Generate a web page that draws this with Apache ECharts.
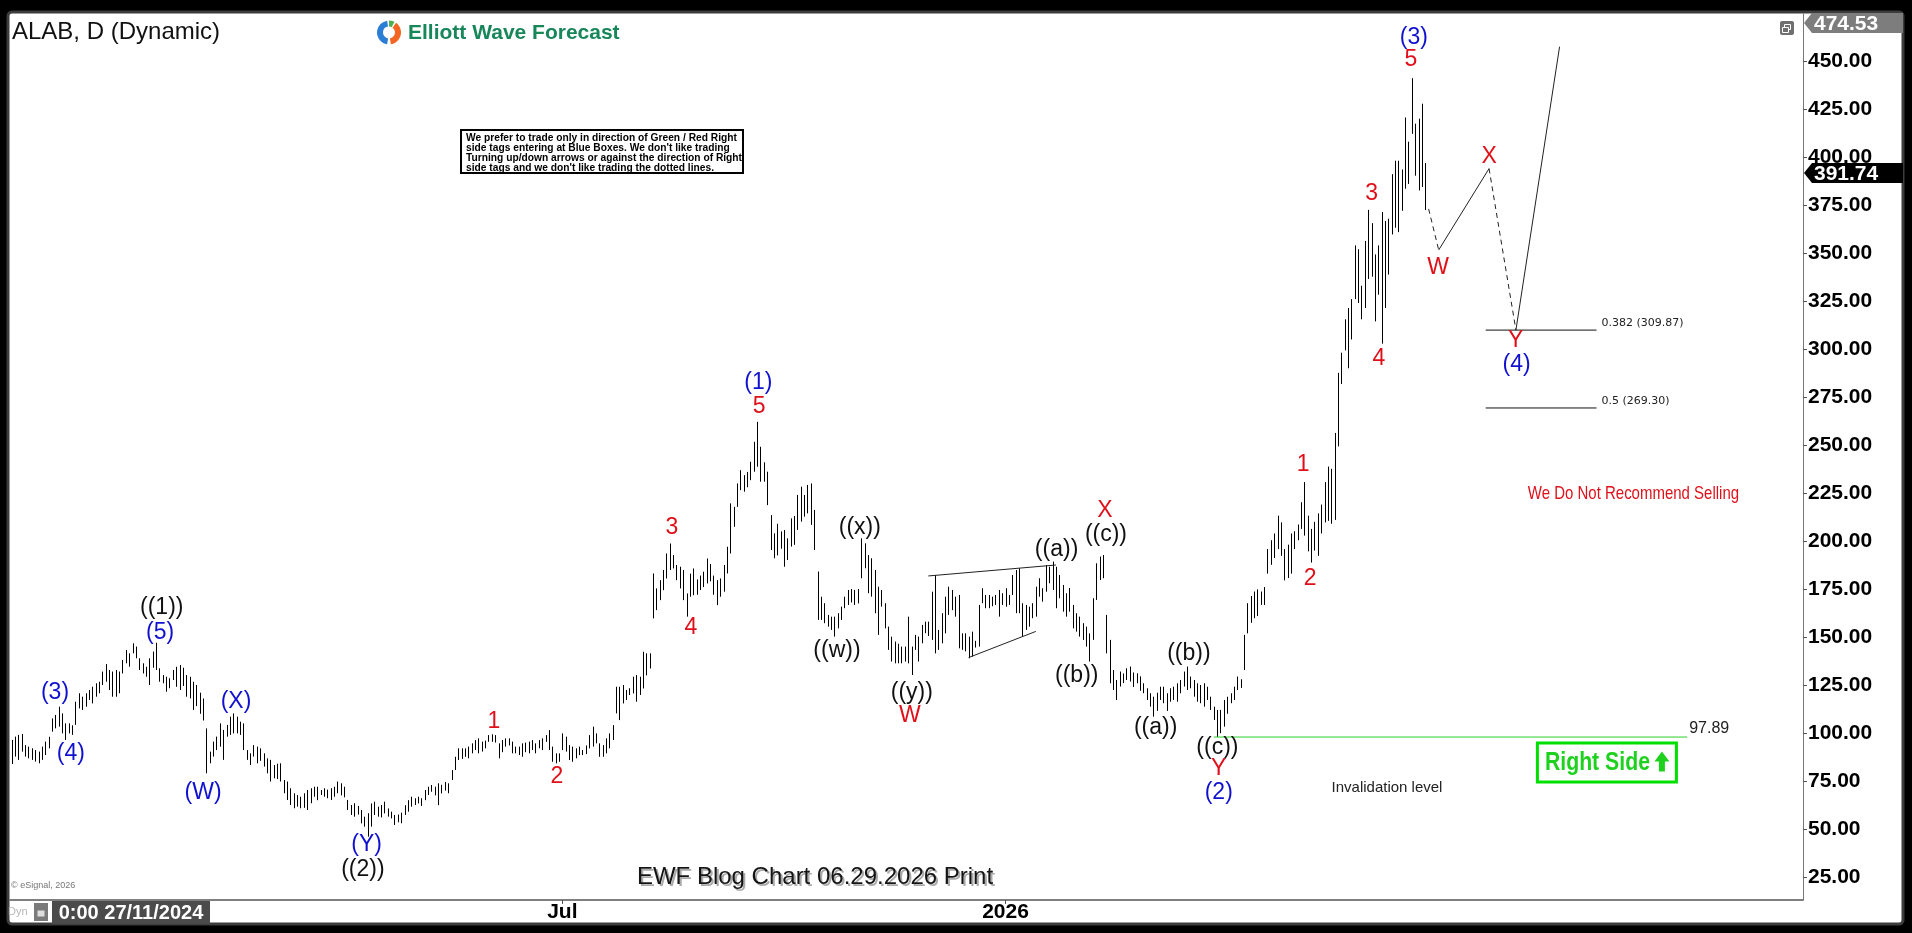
<!DOCTYPE html>
<html><head><meta charset="utf-8">
<script src="https://cdn.jsdelivr.net/npm/echarts@6.0.0/dist/echarts.min.js"></script>
<style>html,body{margin:0;padding:0;background:#000;overflow:hidden}#c{width:1912px;height:933px}</style>
</head><body><div id="c"></div>
<script>
// ---------------- data ----------------
const startDate = '2024-11-13';
const categoryCount = 534;
const xTickLabels = [['2025-07-01', 'Jul'], ['2026-01-01', '2026']];
const yTicks = [25,50,75,100,125,150,175,200,225,250,275,300,325,350,375,400,425,450];
const yMin = 13, yMax = 474.53, lastPrice = 391.74;

const highs = [
96.4,98.1,99.0,99.5,93.7,92.9,92.0,91.1,90.3,92.9,
95.5,98.0,107.6,109.4,113.7,110.2,105.0,105.0,104.0,116.3,
120.7,118.9,120.7,122.4,124.1,125.9,126.7,132.0,135.9,132.8,
132.0,132.8,132.0,138.0,143.2,141.5,146.7,145.0,138.9,136.3,
134.5,138.9,142.4,147.0,133.7,130.2,129.3,128.5,132.8,134.5,
135.4,134.0,130.2,129.3,126.7,125.0,121.0,118.0,102.4,90.3,
95.5,98.1,105.0,101.6,104.2,108.5,110.2,108.5,105.9,105.0,
91.1,89.4,93.7,92.9,92.0,89.4,86.8,86.0,83.3,84.0,
84.2,75.5,74.7,71.2,68.6,67.7,66.8,68.6,70.3,71.2,
72.0,72.0,70.3,71.2,70.5,71.2,72.0,74.7,73.8,72.0,
65.1,62.5,63.4,62.0,59.9,56.4,58.2,63.3,64.2,61.6,
62.5,64.2,60.7,59.0,57.3,57.5,58.5,62.4,65.0,66.8,
66.0,66.8,66.0,70.3,72.0,72.9,72.0,73.8,73.0,74.5,
73.8,80.7,87.6,92.0,92.0,92.0,92.9,94.6,96.3,97.2,
95.5,96.0,98.9,99.3,98.9,94.6,96.3,97.2,97.2,95.5,
92.9,92.9,94.6,95.0,95.5,96.3,94.6,96.3,97.2,98.9,
101.5,92.9,89.4,89.4,99.8,98.1,93.7,92.9,92.0,92.9,
91.1,93.5,98.9,103.3,99.8,94.6,93.7,97.2,99.8,104.1,
124.1,124.1,125.0,122.4,123.3,129.3,130.2,129.3,142.3,141.5,
141.5,183.1,175.3,179.6,184.9,193.5,198.7,192.7,187.5,186.6,
184.9,172.7,183.0,185.7,180.0,182.0,184.0,190.9,188.0,182.0,
179.6,180.5,187.5,197.0,219.6,217.8,230.0,236.9,234.3,236.0,
241.3,251.7,262.1,249.1,241.0,236.1,213.5,204.0,209.0,205.0,
205.7,201.4,211.8,213.0,224.0,228.3,224.0,229.2,230.0,216.2,
184.1,171.0,167.6,161.5,160.6,160.6,162.4,165.8,171.0,174.5,
175.0,174.5,175.0,201.4,198.8,192.7,191.0,184.9,176.2,174.5,
167.6,155.4,150.2,147.6,146.5,145.0,145.0,160.6,145.0,151.1,
150.2,156.3,158.0,158.0,173.6,182.3,153.7,162.4,171.0,176.2,
174.5,171.0,171.9,151.9,151.9,150.2,152.8,148.0,166.7,175.4,
171.9,171.9,171.0,171.9,174.5,172.8,175.4,171.9,182.3,184.9,
185.8,167.6,166.7,165.8,167.6,176.2,180.6,175.4,187.5,186.6,
189.3,186.6,182.3,177.1,172.8,175.5,166.7,162.4,160.6,157.2,
155.4,151.9,170.2,188.4,191.9,192.7,161.5,148.5,132.8,127.6,
132.0,131.0,133.7,134.6,131.5,131.1,129.5,125.9,123.3,120.7,
118.9,121.0,124.1,124.1,120.7,123.3,124.1,125.9,127.6,132.0,
134.6,129.4,127.6,125.9,125.0,125.9,124.1,118.9,113.7,112.0,
112.0,117.2,118.9,120.7,124.1,129.4,128.0,151.1,167.6,171.4,
173.7,174.8,173.7,176.0,195.8,200.4,203.9,213.2,209.7,195.8,
198.1,203.9,205.1,208.6,220.2,230.7,213.2,206.3,210.0,214.4,
219.0,230.7,238.8,237.6,256.3,287.6,298.1,315.5,321.4,326.0,
354.0,352.0,333.0,356.3,372.5,365.6,349.3,354.0,371.4,366.7,
367.9,391.1,398.1,398.1,393.5,420.6,408.0,441.1,417.4,420.0,
427.8,396.9
];
const lows = [
83.8,87.7,86.0,90.3,87.7,86.8,86.0,85.1,84.2,86.0,
88.5,92.0,100.7,102.4,103.3,99.8,96.4,99.8,99.0,104.2,
112.8,112.0,113.7,117.2,115.4,118.9,120.7,125.0,126.7,122.4,
118.9,118.9,120.7,131.0,136.3,134.5,141.5,138.9,132.8,131.0,
129.3,125.0,134.0,132.8,126.7,125.9,121.5,123.3,127.6,124.1,
122.4,124.5,118.9,118.0,112.0,114.0,110.0,106.5,79.0,84.2,
87.7,91.1,92.9,86.0,98.1,99.0,99.8,99.8,99.0,91.1,
86.0,83.3,87.7,84.2,85.5,82.5,79.0,74.7,76.4,76.0,
74.7,68.6,65.1,62.5,60.8,61.6,60.8,61.0,59.9,63.4,
66.8,65.0,67.7,66.8,66.0,65.1,66.8,68.6,67.5,66.5,
59.9,57.3,56.4,57.5,52.9,51.2,46.0,51.2,57.3,56.4,
56.0,58.1,56.4,55.5,52.1,53.5,53.0,57.3,59.0,61.6,
62.5,63.3,62.0,65.0,67.7,69.4,67.5,62.4,68.5,70.0,
68.6,75.5,80.7,85.9,86.5,87.6,86.8,89.4,91.1,89.4,
90.3,92.0,95.4,95.4,95.0,86.8,90.0,92.9,93.5,89.4,
89.4,88.5,87.6,90.0,89.4,91.1,89.4,92.0,91.1,95.4,
91.1,85.0,84.2,85.0,91.1,90.3,85.9,85.0,86.8,88.5,
88.5,89.0,92.0,92.9,94.6,87.6,87.6,89.4,92.0,96.3,
110.2,106.7,115.4,117.2,119.8,120.6,116.3,119.8,123.2,130.0,
133.6,159.7,164.0,169.2,174.4,180.5,184.9,185.7,179.6,175.3,
169.2,160.6,171.0,171.8,172.0,174.5,176.0,177.9,179.0,172.0,
166.6,171.0,173.6,183.1,193.5,207.4,217.8,226.5,225.7,228.0,
231.7,236.1,238.7,230.9,230.9,218.7,195.3,191.0,192.5,196.0,
186.6,190.1,197.1,198.0,205.8,210.1,212.7,214.4,208.4,195.3,
158.9,158.9,157.2,155.4,153.7,150.2,154.5,158.9,165.0,166.7,
168.0,166.7,167.5,180.6,185.8,172.8,171.0,162.4,151.1,165.8,
154.5,143.3,137.2,136.3,136.3,136.3,137.2,136.3,130.2,143.3,
137.2,146.7,152.0,150.5,148.5,141.5,143.3,146.7,151.9,161.5,
164.0,160.6,144.1,143.3,142.5,138.9,139.8,144.5,145.0,167.6,
165.0,165.0,166.0,166.7,160.6,166.7,165.8,166.7,171.9,162.4,
162.4,150.2,153.7,155.4,159.8,160.6,171.0,168.4,173.6,178.0,
174.5,165.0,170.2,163.2,160.6,163.2,154.5,152.8,150.2,148.5,
145.0,137.2,148.5,169.3,179.7,180.6,141.5,125.9,122.4,117.2,
124.2,126.0,127.6,126.8,124.0,125.9,122.0,120.7,117.2,113.7,
108.5,111.5,117.2,115.5,111.5,116.3,117.2,116.3,120.7,124.2,
122.4,123.3,118.9,116.3,115.5,113.7,117.2,112.0,106.8,97.89,
99.9,103.3,110.0,115.5,117.2,122.4,123.5,132.8,151.9,157.4,
159.8,160.9,166.7,166.7,183.0,187.6,191.1,195.8,192.3,179.5,
180.7,183.0,195.8,200.4,206.3,202.8,194.6,188.8,195.0,192.3,
203.9,209.7,210.5,209.0,211.0,249.3,281.8,299.3,290.0,305.0,
326.0,324.0,315.5,321.4,336.5,337.7,314.4,328.3,302.8,321.4,
338.8,359.7,363.2,360.9,372.0,383.5,386.0,412.1,390.3,382.6,
384.4,372.4
];

// wave labels: [text, bar position, price, degree colour]
const waveLabels = [
['((1))',44.7,165.1,'k'],['(5)',44.2,152.1,'b'],['(3)',12.9,120.8,'b'],['(4)',17.6,89.1,'b'],
['(W)',57.0,68.8,'b'],['(X)',66.8,116.1,'b'],['(Y)',105.7,41.7,'b'],['((2))',104.6,28.6,'k'],
['1',143.6,105.9,'r'],['2',162.4,77.2,'r'],['3',196.6,206.8,'r'],['4',202.3,154.7,'r'],
['5',222.6,270.0,'r'],['(1)',222.4,282.3,'b'],
['((w))',245.8,142.7,'k'],['((x))',252.6,206.8,'k'],['((y))',268.1,120.8,'k'],['W',267.5,108.9,'r'],
['((a))',311.2,195.3,'k'],['((b))',317.2,129.7,'k'],['((c))',325.9,203.1,'k'],['X',325.6,215.8,'r'],
['((a))',340.7,102.6,'k'],['((b))',350.6,141.1,'k'],['((c))',359.1,92.2,'k'],['Y',359.5,81.2,'r'],['(2)',359.5,68.8,'b'],
['1',384.6,239.6,'r'],['2',386.7,180.2,'r'],['3',405.0,380.7,'r'],['4',407.2,294.8,'r'],
['5',416.7,450.5,'r'],['(3)',417.6,462.3,'b'],
['W',424.8,342.2,'r'],['X',440.0,400.2,'r'],['Y',447.9,304.3,'r'],['(4)',448.2,291.7,'b']
];
const triangleUpper = [[273,181.8],[311,187.5]];
const triangleLower = [[285,139.3],[305,152.9]];
const projectionDashed = [[[422,373.0],[425,351.6]], [[440,394.0],[448,309.87]]];
const projectionSolid = [[[425,351.6],[440,394.0]], [[448,309.87],[461,457.5]]];
const fibLevels = [['0.382',309.87],['0.5',269.30]];
const fibSpan = [439, 472];
const invalidationLevel = 97.89;
const invalidationSpan = [358, 499];
const noteSelling = ['We Do Not Recommend Selling', 483.0, 224.5];
const noteInvalidation = ['Invalidation level', 409.6, 71.4];
const noteRightSide = ['Right Side', 475.1, 84.6];
const disclaimer = [
 'We prefer to trade only in direction of Green / Red Right',
 'side tags entering at Blue Boxes. We don\'t like trading',
 'Turning up/down arrows or against the direction of Right',
 'side tags and we don\'t like trading the dotted lines.'
];

// ---------------- build ----------------
function buildCategories(start, n) {
  const out = []; const d = new Date(start + 'T00:00:00Z');
  while (out.length < n) {
    const wd = d.getUTCDay();
    if (wd !== 0 && wd !== 6) out.push(d.toISOString().slice(0, 10));
    d.setUTCDate(d.getUTCDate() + 1);
  }
  return out;
}
const categories = buildCategories(startDate, categoryCount);
const tickMap = Object.fromEntries(xTickLabels);

const ARIAL = '"Liberation Sans", Arial, sans-serif';
const COLORS = { k: '#111111', b: '#1010d0', r: '#e0101a' };
const GREEN = '#1fd11f';

function fracX(api, i) {
  const base = Math.floor(i);
  return api.coord([base, 0])[0] + (i - base) * api.size([1, 0])[0];
}
function yOf(api, v) { return api.coord([0, v])[1]; }

function lineSeries(pts, color, dashed) {
  return { type: 'line', data: pts, symbol: 'none', silent: true, animation: false,
    lineStyle: { color: color, width: 1, type: dashed ? [5, 4] : 'solid' }, z: 3 };
}

const series = [];

// high-low bars
series.push({
  type: 'custom', silent: true, animation: false, z: 2,
  data: highs.map((h, i) => [i, h, lows[i]]),
  encode: { x: 0, y: [1, 2] },
  renderItem: (params, api) => {
    const i = api.value(0);
    const t = api.coord([i, api.value(1)]);
    const b = api.coord([i, api.value(2)]);
    const x = Math.round(t[0]) + 0.5;
    return { type: 'line', shape: { x1: x, y1: t[1], x2: x, y2: b[1] }, style: { stroke: '#000', lineWidth: 1 } };
  }
});

series.push(lineSeries(triangleUpper, '#222', false));
series.push(lineSeries(triangleLower, '#222', false));
projectionDashed.forEach(p => series.push(lineSeries(p, '#222', true)));
projectionSolid.forEach(p => series.push(lineSeries(p, '#222', false)));
fibLevels.forEach(f => series.push(lineSeries([[fibSpan[0], f[1]], [fibSpan[1], f[1]]], '#111', false)));
series.push(lineSeries([[invalidationSpan[0], invalidationLevel], [invalidationSpan[1], invalidationLevel]], '#2bd02b', false));

// wave labels
series.push({
  type: 'custom', silent: true, animation: false, clip: false, z: 5,
  data: waveLabels.map(d => [Math.round(d[1]), d[2]]),
  renderItem: (params, api) => {
    const d = waveLabels[params.dataIndex];
    return { type: 'text', x: fracX(api, d[1]), y: yOf(api, d[2]),
      style: { text: d[0], fill: COLORS[d[3]], font: '23px ' + ARIAL, align: 'center', verticalAlign: 'middle' } };
  }
});

// fib + invalidation level labels
series.push({
  type: 'custom', silent: true, animation: false, clip: false, z: 5,
  data: fibLevels.map(f => [fibSpan[1], f[1]]),
  renderItem: (params, api) => {
    const f = fibLevels[params.dataIndex];
    return { type: 'text', x: api.coord([fibSpan[1], f[1]])[0] + 5, y: yOf(api, f[1]) - 7,
      style: { text: f[0] + ' (' + f[1].toFixed(2) + ')', fill: '#222', font: '11px "DejaVu Sans", sans-serif', align: 'left', verticalAlign: 'middle' } };
  }
});
series.push({
  type: 'custom', silent: true, animation: false, clip: false, z: 5,
  data: [[invalidationSpan[1], invalidationLevel]],
  renderItem: (params, api) => ({ type: 'text', x: api.coord([invalidationSpan[1], invalidationLevel])[0] + 2,
    y: yOf(api, invalidationLevel) - 8,
    style: { text: invalidationLevel.toFixed(2), fill: '#222', font: '16px ' + ARIAL, align: 'left', verticalAlign: 'middle' } })
});

// notes
series.push({
  type: 'custom', silent: true, animation: false, clip: false, z: 5,
  data: [[Math.round(noteSelling[1]), noteSelling[2]], [Math.round(noteInvalidation[1]), noteInvalidation[2]], [Math.round(noteRightSide[1]), noteRightSide[2]]],
  renderItem: (params, api) => {
    if (params.dataIndex === 0) {
      return { type: 'text', x: fracX(api, noteSelling[1]), y: yOf(api, noteSelling[2]), scaleX: 0.81,
        style: { text: noteSelling[0], fill: '#e0101a', font: '18.5px ' + ARIAL, align: 'center', verticalAlign: 'middle' } };
    }
    if (params.dataIndex === 1) {
      return { type: 'text', x: fracX(api, noteInvalidation[1]), y: yOf(api, noteInvalidation[2]),
        style: { text: noteInvalidation[0], fill: '#222', font: '15px ' + ARIAL, align: 'center', verticalAlign: 'middle' } };
    }
    const cx = fracX(api, noteRightSide[1]), cy = yOf(api, noteRightSide[2]);
    return { type: 'group', children: [
      { type: 'rect', shape: { x: cx - 69.5, y: cy - 19.5, width: 139, height: 39 }, style: { fill: '#fff', stroke: '#00e000', lineWidth: 3 } },
      { type: 'text', x: cx - 62, y: cy + 1, scaleX: 0.85, style: { text: noteRightSide[0], fill: GREEN, font: 'bold 25px ' + ARIAL, align: 'left', verticalAlign: 'middle' } },
      { type: 'polygon', shape: { points: [[cx + 55, cy - 11], [cx + 62.5, cy - 1], [cx + 58, cy - 1], [cx + 58, cy + 9], [cx + 52, cy + 9], [cx + 52, cy - 1], [cx + 47.5, cy - 1]] }, style: { fill: GREEN } }
    ] };
  }
});

// price tags on the axis
series.push({
  type: 'custom', silent: true, animation: false, clip: false, z: 20,
  data: [[0, yMax], [0, lastPrice]],
  renderItem: (params, api) => {
    const cs = params.coordSys;
    const x0 = cs.x + cs.width;
    const v = api.value(1);
    const h = 20;
    const cy = Math.max(yOf(api, v), cs.y + h / 2 - 1);
    const fill = params.dataIndex === 0 ? '#7d7d7d' : '#000';
    return { type: 'group', children: [
      { type: 'polygon', shape: { points: [[x0 + 1, cy], [x0 + 9, cy - h / 2], [x0 + 100, cy - h / 2], [x0 + 100, cy + h / 2], [x0 + 9, cy + h / 2]] }, style: { fill: fill } },
      { type: 'text', x: x0 + 11, y: cy + 1, style: { text: v.toFixed(2), fill: '#fff', font: 'bold 21px ' + ARIAL, align: 'left', verticalAlign: 'middle' } }
    ] };
  }
});

const graphics = [
  { type: 'rect', z: -10, shape: { x: 8, y: 12, width: 1895, height: 912, r: 4 }, style: { fill: '#fff', stroke: '#3d3d3d', lineWidth: 3 } },
  { type: 'text', x: 12, y: 32, style: { text: 'ALAB, D (Dynamic)', fill: '#111', font: '24px ' + ARIAL, align: 'left', verticalAlign: 'middle' } },
  { type: 'arc', shape: { cx: 389, cy: 32.5, r: 9, startAngle: Math.PI * 0.55, endAngle: Math.PI * 1.45 }, style: { stroke: '#2a7fd4', lineWidth: 6, fill: 'none' } },
  { type: 'arc', shape: { cx: 389, cy: 32.5, r: 9, startAngle: -Math.PI * 0.3, endAngle: Math.PI * 0.45 }, style: { stroke: '#f26522', lineWidth: 6, fill: 'none' } },
  { type: 'arc', shape: { cx: 389, cy: 32.5, r: 9, startAngle: -Math.PI * 0.5, endAngle: -Math.PI * 0.35 }, style: { stroke: '#4caf50', lineWidth: 6, fill: 'none' } },
  { type: 'text', x: 408, y: 33, style: { text: 'Elliott Wave Forecast', fill: '#17875a', font: 'bold 21px ' + ARIAL, align: 'left', verticalAlign: 'middle' } },
  { type: 'rect', shape: { x: 461, y: 130, width: 282, height: 43 }, style: { fill: '#fff', stroke: '#000', lineWidth: 2 } },
  { type: 'rect', shape: { x: 1780, y: 21, width: 14, height: 14, r: 2 }, style: { fill: '#6f6f6f' } },
  { type: 'rect', shape: { x: 1784.5, y: 24.5, width: 6, height: 5 }, style: { fill: '#6f6f6f', stroke: '#fff', lineWidth: 1 } },
  { type: 'rect', shape: { x: 1782.5, y: 27.5, width: 6, height: 5 }, style: { fill: '#6f6f6f', stroke: '#fff', lineWidth: 1 } },
  { type: 'text', x: 817, y: 879, style: { text: 'EWF Blog Chart 06.29.2026 Print', fill: '#aaa', font: '24px ' + ARIAL, align: 'center', verticalAlign: 'middle' } },
  { type: 'text', x: 815, y: 877, style: { text: 'EWF Blog Chart 06.29.2026 Print', fill: '#151515', font: '24px ' + ARIAL, align: 'center', verticalAlign: 'middle' } },
  { type: 'text', x: 11, y: 886, style: { text: '\u00a9 eSignal, 2026', fill: '#777', font: '9px ' + ARIAL, align: 'left', verticalAlign: 'middle' } },
  { type: 'text', x: 8, y: 912, style: { text: 'Dyn', fill: '#b5b5b5', font: '11px ' + ARIAL, align: 'left', verticalAlign: 'middle' } },
  { type: 'rect', shape: { x: 34, y: 903, width: 14, height: 18 }, style: { fill: '#7a7a7a' } },
  { type: 'rect', shape: { x: 37.5, y: 910.5, width: 7, height: 6 }, style: { fill: '#ddd' } },
  { type: 'rect', shape: { x: 52, y: 901, width: 158, height: 23 }, style: { fill: '#4b4b4b' } },
  { type: 'text', x: 131, y: 913, style: { text: '0:00 27/11/2024', fill: '#fff', font: 'bold 20px ' + ARIAL, align: 'center', verticalAlign: 'middle' } }
];
disclaimer.forEach((line, k) => graphics.push({ type: 'text', x: 466, y: 137.5 + k * 10.2, scaleX: 0.93,
  style: { text: line, fill: '#000', font: 'bold 11px ' + ARIAL, align: 'left', verticalAlign: 'middle' } }));

const chart = echarts.init(document.getElementById('c'), null, { renderer: 'canvas', width: 1912, height: 933 });
chart.setOption({
  backgroundColor: '#000',
  animation: false,
  grid: { left: 10, right: 109, top: 14, bottom: 33, containLabel: false, outerBoundsMode: 'none' },
  xAxis: {
    type: 'category', data: categories, boundaryGap: true,
    axisLine: { show: true, lineStyle: { color: '#555', width: 1.5 } },
    axisTick: { show: true, alignWithLabel: true, length: 4, interval: (i, v) => v in tickMap, lineStyle: { color: '#555' } },
    axisLabel: { show: true, interval: (i, v) => v in tickMap, formatter: v => tickMap[v] || '',
      color: '#000', fontWeight: 'bold', fontSize: 21, fontFamily: 'Liberation Sans, Arial', margin: 2 },
    splitLine: { show: false }
  },
  yAxis: {
    type: 'value', position: 'right', min: yMin, max: yMax, scale: true,
    axisLine: { show: true, lineStyle: { color: '#777', width: 1 } },
    axisTick: { show: true, length: 4, customValues: yTicks, lineStyle: { color: '#555' } },
    axisLabel: { show: true, customValues: yTicks, formatter: v => Number(v).toFixed(2), color: '#000',
      fontWeight: 'bold', fontSize: 21, fontFamily: 'Liberation Sans, Arial', margin: 5 },
    splitLine: { show: false }
  },
  series: series,
  graphic: { elements: graphics }
});
</script>
</body></html>
